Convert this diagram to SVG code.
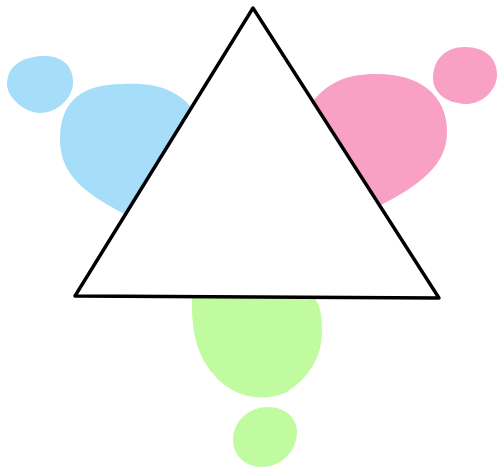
<svg xmlns="http://www.w3.org/2000/svg" width="499" height="470" viewBox="0 0 499 470">
<style>
.blue{fill:#a6ddf9}
.pink{fill:#f8a1c5}
.green{fill:#c1fb9f}
.tri{fill:#fff;stroke:#000;stroke-width:3.4;stroke-linejoin:round}
</style>
<rect width="499" height="470" fill="#fff"/>
<g id="blue">
<path class="blue" d="M42 56 C62 55 73 66 73 82 C73 100 55 113 40 113 C25 113 7 98 7 84 C7 66 22 57 42 56 Z"/>
<path class="blue" d="M126 215 C95 198 60 180 60 140 C60 100 82 85 122 84 C160 82 180 92 195 112 L200 170 Z"/>
</g>
<g id="pink">
<path class="pink" d="M465 47 C485 47 497 58 497 75 C497 90 482 104 467 104 C450 104 433 95 433 78 C433 60 445 47 465 47 Z"/>
<path class="pink" d="M312 102 C330 80 350 74 377 74 C420 74 447 95 447 132 C447 165 420 185 379 206 L320 160 Z"/>
</g>
<g id="green">
<path class="green" d="M192 297 C191 335 198 362 222 383 C240 398 265 402 287 392 C307 378 322 360 322 330 C322 310 318 300 312 297 Z"/>
<path class="green" d="M268 407 C285 407 297 418 297 432 C297 452 280 467 262 467 C245 467 233 455 233 440 C233 420 250 407 268 407 Z"/>
</g>
<g id="triangle">
<polygon class="tri" points="253,8 75,296 439,298"/>
</g>
</svg>
